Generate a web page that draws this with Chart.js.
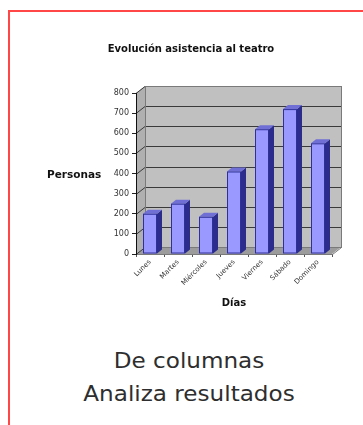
<!DOCTYPE html>
<html>
<head>
<meta charset="utf-8">
<script src="https://cdn.jsdelivr.net/npm/chart.js@4.4.1/dist/chart.umd.min.js"></script>
<style>
  html, body { margin: 0; padding: 0; background: #fff; }
  body { width: 363px; height: 425px; position: relative; overflow: hidden; font-family: "DejaVu Sans", sans-serif; }
  #frame { position: absolute; left: 8px; top: 10px; width: 420px; height: 480px;
           border-top: 2px solid #ff4747; border-left: 2px solid #ff4747; }
  #chart { position: absolute; left: 0; top: 0; }
  #yTitle { position: absolute; left: 47px; top: 168px; font: bold 10.5px "DejaVu Sans"; color: #111; }
  .caption { position: absolute; left: 0; width: 378px; text-align: center; font-size: 21px;
             line-height: 24px; color: #2e2e2e; transform: scaleX(1.1); transform-origin: 189px 0; }
</style>
</head>
<body>
<div id="frame"></div>
<canvas id="chart" width="363" height="320"></canvas>
<div id="yTitle">Personas</div>
<div class="caption" style="top:349px">De columnas</div>
<div class="caption" style="top:382px">Analiza resultados</div>
<script>
// --- DATA ---
const dias = ['Lunes', 'Martes', 'Miércoles', 'Jueves', 'Viernes', 'Sábado', 'Domingo'];
const asistentes = [200, 250, 185, 410, 620, 720, 550];
const yTicks = [0, 100, 200, 300, 400, 500, 600, 700, 800];

// depth of the walls and of the columns
const WALL_DX = 9, WALL_DY = -7;
const BAR_DX = 5, BAR_DY = -4;

// --- 3D WALLS, FLOOR AND GRID ---
const walls3d = {
    id: 'walls3d',
    beforeDatasetsDraw(chart) {
        const { ctx, chartArea: a, scales: { y } } = chart;
        ctx.save();
        ctx.lineWidth = 1;

        // back wall
        ctx.fillStyle = '#c0c0c0';
        ctx.fillRect(a.left + WALL_DX, a.top + WALL_DY, a.right - a.left, a.bottom - a.top);

        // left side wall
        ctx.fillStyle = '#b0b0b0';
        ctx.beginPath();
        ctx.moveTo(a.left, a.top);
        ctx.lineTo(a.left + WALL_DX, a.top + WALL_DY);
        ctx.lineTo(a.left + WALL_DX, a.bottom + WALL_DY);
        ctx.lineTo(a.left, a.bottom);
        ctx.closePath();
        ctx.fill();

        // floor
        ctx.fillStyle = '#9c9c9c';
        ctx.beginPath();
        ctx.moveTo(a.left, a.bottom);
        ctx.lineTo(a.left + WALL_DX, a.bottom + WALL_DY);
        ctx.lineTo(a.right + WALL_DX, a.bottom + WALL_DY);
        ctx.lineTo(a.right, a.bottom);
        ctx.closePath();
        ctx.fill();

        // gridlines: across the side wall and the back wall
        ctx.strokeStyle = '#3a3a3a';
        yTicks.forEach(v => {
            const py = Math.round(y.getPixelForValue(v)) + 0.5;
            ctx.beginPath();
            ctx.moveTo(a.left, py);
            ctx.lineTo(a.left + WALL_DX, py + WALL_DY);
            ctx.lineTo(a.right + WALL_DX, py + WALL_DY);
            ctx.stroke();
        });

        // wall edges
        ctx.strokeStyle = '#7a7a7a';
        ctx.strokeRect(a.left + WALL_DX + 0.5, a.top + WALL_DY + 0.5, a.right - a.left, a.bottom - a.top);
        ctx.beginPath();
        ctx.moveTo(a.left + 0.5, a.bottom + 0.5);
        ctx.lineTo(a.right + 0.5, a.bottom + 0.5);
        ctx.lineTo(a.right + WALL_DX + 0.5, a.bottom + WALL_DY + 0.5);
        ctx.stroke();

        // front vertical axis
        ctx.strokeStyle = '#111';
        ctx.beginPath();
        ctx.moveTo(a.left + 0.5, a.top);
        ctx.lineTo(a.left + 0.5, a.bottom + 1);
        ctx.stroke();
        ctx.restore();
    },
    afterDatasetsDraw(chart) {
        const { ctx } = chart;
        ctx.save();
        chart.getDatasetMeta(0).data.forEach(bar => {
            const { x, y, base, width } = bar.getProps(['x', 'y', 'base', 'width'], true);
            const l = x - width / 2, r = x + width / 2;
            // side face
            ctx.fillStyle = '#2c2c8c';
            ctx.beginPath();
            ctx.moveTo(r, y);
            ctx.lineTo(r + BAR_DX, y + BAR_DY);
            ctx.lineTo(r + BAR_DX, base + BAR_DY);
            ctx.lineTo(r, base);
            ctx.closePath();
            ctx.fill();
            // top face
            ctx.fillStyle = '#6f6fd6';
            ctx.beginPath();
            ctx.moveTo(l, y);
            ctx.lineTo(l + BAR_DX, y + BAR_DY);
            ctx.lineTo(r + BAR_DX, y + BAR_DY);
            ctx.lineTo(r, y);
            ctx.closePath();
            ctx.fill();
            // outline of the front face
            ctx.strokeStyle = '#30309a';
            ctx.lineWidth = 1;
            ctx.strokeRect(l + 0.5, y + 0.5, width - 1, base - y - 1);
        });
        ctx.restore();
    }
};

// --- CHART ---
const ctx = document.getElementById('chart').getContext('2d');
Chart.defaults.font.family = '"DejaVu Sans", sans-serif';
Chart.defaults.color = '#333';

new Chart(ctx, {
    type: 'bar',
    data: {
        labels: dias,
        datasets: [{
            label: 'Personas',
            data: asistentes,
            backgroundColor: '#9999ff',
            borderWidth: 0,
            categoryPercentage: 1,
            barPercentage: 0.5
        }]
    },
    options: {
        responsive: false,
        animation: false,
        layout: { padding: { left: 50, right: 31, top: 0, bottom: 0 } },
        plugins: {
            legend: { display: false },
            tooltip: { enabled: false },
            title: {
                display: true,
                text: 'Evolución asistencia al teatro',
                color: '#111',
                font: { size: 10, weight: 'bold' },
                padding: { top: 43, bottom: 38 }
            }
        },
        scales: {
            y: {
                min: 0,
                max: 800,
                afterFit(scale) { scale.width = 86; },
                ticks: { stepSize: 100, font: { size: 8 }, color: '#333', padding: 3 },
                grid: { drawOnChartArea: false, drawTicks: true, tickLength: 4, color: '#222' },
                border: { display: true, color: '#111' }
            },
            x: {
                afterFit(scale) { scale.height = 66; },
                ticks: { minRotation: 45, maxRotation: 45, font: { size: 7 }, color: '#333', padding: 1 },
                grid: { offset: true, drawOnChartArea: false, drawTicks: true, tickLength: 3, color: '#555' },
                border: { display: false },
                title: {
                    display: true,
                    text: 'Días',
                    color: '#111',
                    font: { size: 10, weight: 'bold' },
                    padding: { top: 0, bottom: 11 }
                }
            }
        }
    },
    plugins: [walls3d]
});
</script>
</body>
</html>
